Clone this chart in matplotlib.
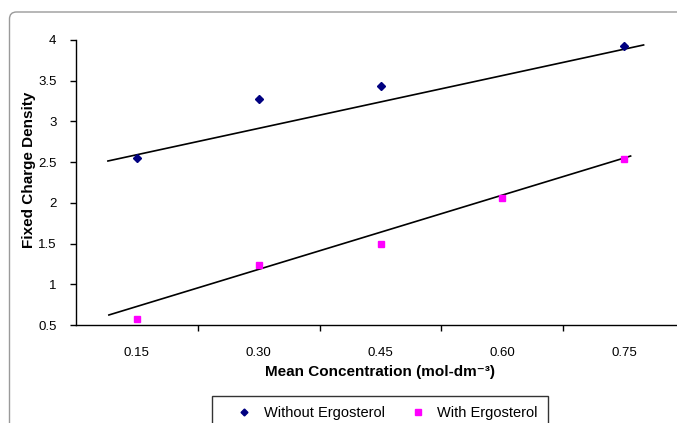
import matplotlib
matplotlib.use('Agg')
import matplotlib.pyplot as plt
from matplotlib.lines import Line2D
from matplotlib.patches import FancyBboxPatch
from matplotlib.transforms import IdentityTransform

plt.rcParams['font.family'] = ['Liberation Sans', 'DejaVu Sans']

# Data
conc_without = [0.15, 0.30, 0.45, 0.75]
fcd_without = [2.55, 3.275, 3.435, 3.93]
conc_with = [0.15, 0.30, 0.45, 0.60, 0.75]
fcd_with = [0.574, 1.237, 1.495, 2.06, 2.54]

# trend line end points
trend_without_x = [0.1143, 0.774]
trend_without_y = [2.514, 3.939]
trend_with_x = [0.1155, 0.758]
trend_with_y = [0.623, 2.575]

xtick_pos = [0.15, 0.30, 0.45, 0.60, 0.75]
xtick_labels = ['0.15', '0.30', '0.45', '0.60', '0.75']
xtick_bounds = [0.225, 0.375, 0.525, 0.675]
ytick_pos = [0.5, 1, 1.5, 2, 2.5, 3, 3.5, 4]
ytick_labels = ['0.5', '1', '1.5', '2', '2.5', '3', '3.5', '4']

W, H = 677, 423
fig = plt.figure(figsize=(W / 100, H / 100), dpi=100)

# outer rounded frame (cut off on the right and bottom)
frame = FancyBboxPatch((9.5, -30), 720, 423 - 12 + 30, boxstyle='round,pad=0,rounding_size=7',
                       transform=IdentityTransform(), facecolor='none',
                       edgecolor='#9a9a9a', linewidth=1.0)
fig.patches.append(frame)

ax = fig.add_axes([76 / W, 1 - 325 / H, 609 / W, 285 / H])
ax.set_xlim(0.075, 0.825)
ax.set_ylim(0.5, 4)

ax.plot(trend_without_x, trend_without_y, color='black', lw=1.2)
ax.plot(trend_with_x, trend_with_y, color='black', lw=1.2)
ax.plot(conc_without, fcd_without, 'D', color='#000080', markersize=3.8, linestyle='none')
ax.plot(conc_with, fcd_with, 's', color='#ff00ff', markersize=5, linestyle='none')

for s in ['top', 'right']:
    ax.spines[s].set_visible(False)
for s in ['left', 'bottom']:
    ax.spines[s].set_linewidth(1.0)

ax.set_xticks(xtick_pos)
ax.set_xticklabels(xtick_labels)
ax.set_xticks(xtick_bounds, minor=True)
ax.tick_params(axis='x', which='major', length=0, pad=15.5, labelsize=9.5)
ax.tick_params(axis='x', which='minor', length=4, direction='out', width=1)
ax.set_yticks(ytick_pos)
ax.set_yticklabels(ytick_labels)
ax.tick_params(axis='y', length=4, width=1, pad=10, labelsize=9.5)

fig.text(380 / W, 1 - 372 / H, 'Mean Concentration (mol-dm\u207b\u00b3)',
         ha='center', va='center', fontsize=11, fontweight='bold')
fig.text(29 / W, 1 - 170 / H, 'Fixed Charge Density', rotation=90,
         ha='center', va='center', fontsize=11, fontweight='bold')

handles = [
    Line2D([0], [0], marker='D', color='#000080', linestyle='none', markersize=3.5,
           label='Without Ergosterol'),
    Line2D([0], [0], marker='s', color='#ff00ff', linestyle='none', markersize=5,
           label='With Ergosterol'),
]
leg = fig.legend(handles=handles, loc='upper left', bbox_to_anchor=(212 / W, 1 - 396 / H),
                 borderaxespad=0, ncol=2, frameon=True, fancybox=False,
                 edgecolor='black', fontsize=10.5, handlelength=3,
                 handletextpad=-0.15, columnspacing=0.75, borderpad=0.7)
leg.get_frame().set_linewidth(1.0)

fig.savefig('out.png', dpi=100)
